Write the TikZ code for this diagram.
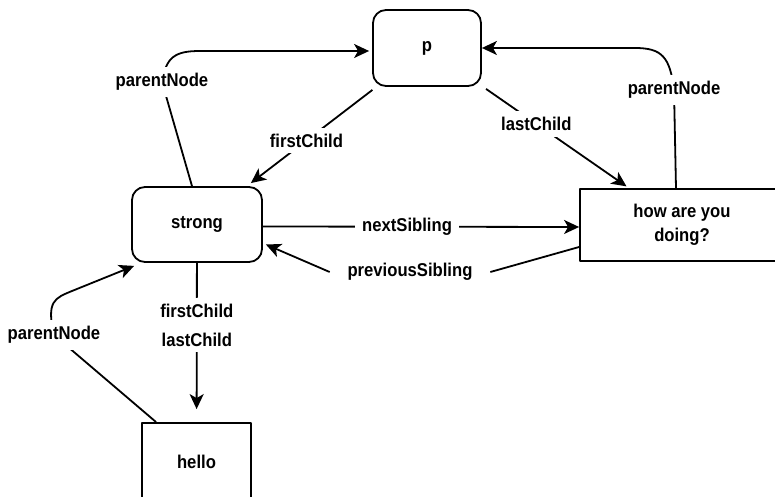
\documentclass[tikz,border=0pt]{standalone}
\usepackage{fontspec}
\setmainfont{Liberation Sans}[FakeStretch=0.9]
\usetikzlibrary{arrows.meta,shapes}

\begin{document}
\begin{tikzpicture}[>={Stealth[length=15bp,width=14bp,inset=4bp]},line join=bevel,
  font=\fontsize{18.5bp}{24bp}\selectfont\bfseries,
  domnode/.style={draw,rounded corners=13bp,align=center},
  textnode/.style={draw,align=center},
  edgelabel/.style={fill=white,inner xsep=7bp,inner ysep=6bp,align=center}]
\pgfsetlinewidth{1.8bp}
\pgfsetcolor{black}
\useasboundingbox (0bp,0bp) rectangle (775bp,497bp);
\clip (0bp,0bp) rectangle (775bp,497bp);

% Node: p
\node[domnode,minimum width=108bp,minimum height=76bp] (p) at (427bp,449bp) {p};

% Node: strong
\node[domnode,minimum width=130bp,minimum height=75bp] (strong) at (197bp,272.5bp) {strong};

% Node: how
\node[textnode,minimum width=204bp,minimum height=72bp] (how) at (682bp,272bp) {how are you\\doing?};

% Node: hello
\node[textnode,minimum width=109bp,minimum height=78bp] (hello) at (196.5bp,35bp) {hello};

% Edge: p -> strong
\draw [->,shorten <=5bp,shorten >=5bp] (p) -- node[edgelabel,pos=0.54] (fc) {firstChild} (strong);

% Edge: p -> how
\draw [->,shorten <=5bp,shorten >=3bp] (p) -- node[edgelabel,pos=0.37] (lc) {lastChild} (how);

% Edge: strong -> how
\draw [->] ([yshift=-2bp]strong.east) -- node[edgelabel,pos=0.456] (ns) {nextSibling} ([yshift=-2bp]how.west);

% Edge: how -> strong
\node[edgelabel,inner xsep=17bp] (ps) at (410bp,225bp) {previousSibling};
\draw [->] ([yshift=-22bp]how.west) -- (ps.east) (ps.west) -- ([shift={(3bp,-20bp)}]strong.east);

% Edge: strong -> p
\draw [->,shorten >=3bp] ([xshift=-5bp]strong.north) -- (162bp,415bp) node[edgelabel] (pn1) {parentNode} .. controls (166bp,440bp) and (175bp,446bp) .. (200bp,446bp) -- ([yshift=-3bp]p.west);

% Edge: how -> p
\draw [->] ([xshift=-6bp]how.north) -- (674bp,407bp) node[edgelabel] (pn2) {parentNode} .. controls (670bp,440bp) and (662bp,449bp) .. (635bp,449bp) -- (p.east);

% Edge: hello -> strong
\draw [->] ([xshift=15bp]hello.north west) -- (54bp,162bp) node[edgelabel] (pn3) {parentNode} .. controls (46bp,196bp) and (55bp,199bp) .. (72bp,206bp) -- ([shift={(3bp,-3bp)}]strong.south west);

% Edge: strong -> hello
\draw [->,shorten >=13bp] (strong) -- node[edgelabel,pos=0.39] (fl) {firstChild\\[5bp]lastChild} (hello);
%
\end{tikzpicture}
\end{document}
